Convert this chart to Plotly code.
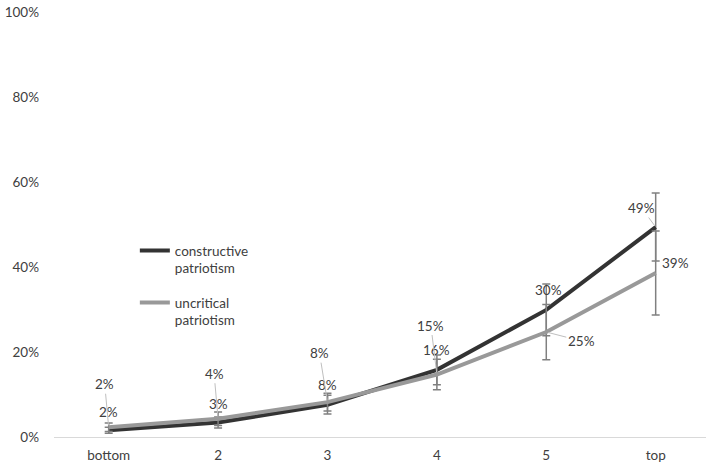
import plotly.graph_objects as go

categories = ["bottom", "2", "3", "4", "5", "top"]
constructive = [1.6, 3.4, 7.6, 15.8, 29.9, 49.4]
constructive_err = [0.7, 1.3, 2.2, 3.5, 6.1, 8.0]
uncritical = [2.3, 4.3, 8.2, 14.7, 24.7, 38.6]
uncritical_err = [1.0, 1.6, 2.1, 3.6, 6.5, 9.9]
y_ticks = [0, 20, 40, 60, 80, 100]
y_tick_labels = ["0%", "20%", "40%", "60%", "80%", "100%"]

# label offsets in pixels (dx, dy, leader line?)
con_label_pos = [(0, -18, False), (0, -19, False), (0, -20, False), (0, -20, False), (2, -20, False), (-14, -19, True)]
unc_label_pos = [(-4, -43, True), (-4, -45, True), (-8, -49, True), (-6, -49, True), (35, 9, True), (20, -10, False)]

FONT = "Lato"
TXT = "#404040"
FS = 13.5

fig = go.Figure()
fig.add_trace(go.Scatter(
    x=categories, y=constructive, mode="lines",
    name="constructive<br>patriotism", legendgroup="a",
    line=dict(color="#333333", width=4),
    error_y=dict(type="data", array=constructive_err, visible=True,
                 color="#808080", thickness=1.5, width=4),
))
fig.add_trace(go.Scatter(
    x=categories, y=uncritical, mode="lines",
    name="uncritical<br>patriotism", legendgroup="b",
    line=dict(color="#999999", width=4),
    error_y=dict(type="data", array=uncritical_err, visible=True,
                 color="#808080", thickness=1.5, width=4),
))

annotations = []
for vals, pos in ((constructive, con_label_pos), (uncritical, unc_label_pos)):
    for i, (v, (dx, dy, leader)) in enumerate(zip(vals, pos)):
        txt = f"{round(v)}%"
        if leader:
            annotations.append(dict(x=i, y=v, xref="x", yref="y", text=txt,
                                    showarrow=True, arrowhead=0, arrowwidth=1,
                                    arrowcolor="#bfbfbf", ax=dx, ay=dy, standoff=2,
                                    font=dict(family=FONT, size=FS, color=TXT)))
        else:
            annotations.append(dict(x=i, y=v, xref="x", yref="y", text=txt,
                                    showarrow=False, xshift=dx, yshift=-dy,
                                    font=dict(family=FONT, size=FS, color=TXT)))

fig.update_layout(
    width=706, height=468,
    margin=dict(l=54, r=0, t=12, b=31),
    paper_bgcolor="white", plot_bgcolor="white",
    font=dict(family=FONT, size=FS, color=TXT),
    showlegend=True,
    legend=dict(x=0.124, y=0.475, xanchor="left", yanchor="top",
                bgcolor="rgba(0,0,0,0)", valign="top", tracegroupgap=14,
                font=dict(family=FONT, size=FS, color=TXT)),
    annotations=annotations,
    xaxis=dict(type="category", range=[-0.5, 5.46], showgrid=False, showline=True,
               linecolor="#d9d9d9", linewidth=1, ticks="", zeroline=False,
               ticklabelstandoff=6, tickfont=dict(family=FONT, size=FS, color=TXT)),
    yaxis=dict(range=[0, 100], tickvals=y_ticks, ticktext=y_tick_labels, showgrid=False,
               showline=False, zeroline=False, ticks="", ticklabelstandoff=14,
               tickfont=dict(family=FONT, size=FS, color=TXT)),
)

fig.write_html("out.html")
